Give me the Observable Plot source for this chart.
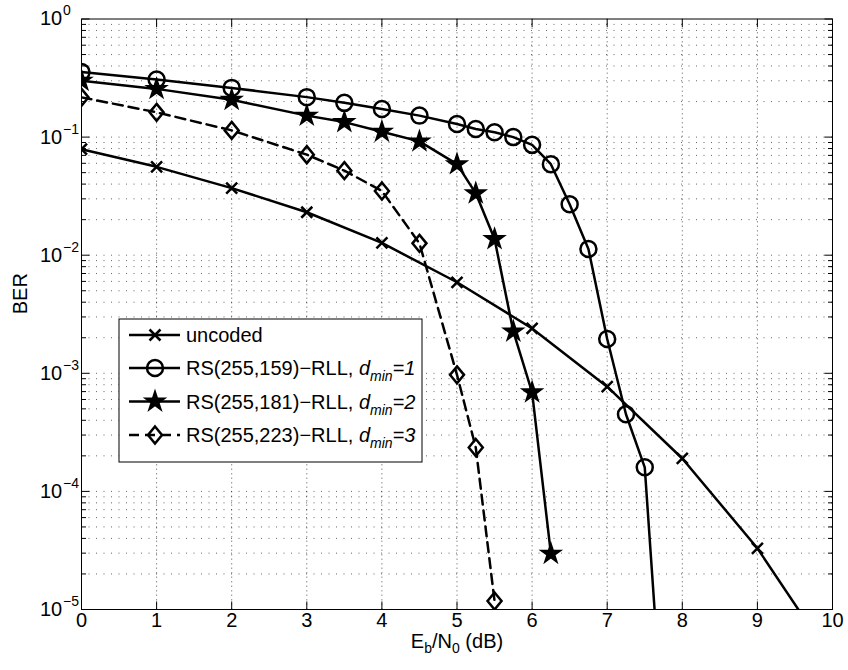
<!DOCTYPE html>
<html>
<head>
<meta charset="utf-8">
<script src="https://cdn.jsdelivr.net/npm/d3@7"></script>
<script src="https://cdn.jsdelivr.net/npm/@observablehq/plot@0.6"></script>
<style>
  html, body { margin: 0; padding: 0; background: #fff; }
  #chart { width: 848px; height: 670px; }
</style>
</head>
<body>
<div id="chart"></div>
<script>
// ---- data ----
const ebn0Uncoded = [0, 1, 2, 3, 4, 5, 6, 7, 8, 9, 10];
const berUncoded  = [0.079, 0.056, 0.037, 0.0231, 0.0127, 0.0059, 0.0024, 7.7e-4, 1.9e-4, 3.3e-5, 3.7e-6];

const ebn0RS159 = [0, 1, 2, 3, 3.5, 4, 4.5, 5, 5.25, 5.5, 5.75, 6, 6.25, 6.5, 6.75, 7, 7.25, 7.5, 7.75];
const berRS159  = [0.355, 0.307, 0.261, 0.218, 0.195, 0.173, 0.152, 0.129, 0.117, 0.110, 0.100, 0.086, 0.059, 0.027, 0.0113, 0.00195, 4.5e-4, 1.6e-4, 8e-7];

const ebn0RS181 = [0, 1, 2, 3, 3.5, 4, 4.5, 5, 5.25, 5.5, 5.75, 6, 6.25];
const berRS181  = [0.300, 0.256, 0.207, 0.152, 0.134, 0.111, 0.092, 0.059, 0.0334, 0.0137, 0.00226, 6.9e-4, 2.97e-5];

const ebn0RS223 = [0, 1, 2, 3, 3.5, 4, 4.5, 5, 5.25, 5.5];
const berRS223  = [0.217, 0.162, 0.114, 0.071, 0.052, 0.035, 0.0126, 9.7e-4, 2.35e-4, 1.18e-5];

const xTicks = [0, 1, 2, 3, 4, 5, 6, 7, 8, 9, 10];
const yMajor = [1e-5, 1e-4, 1e-3, 1e-2, 1e-1, 1];
const yExponents = ["−5", "−4", "−3", "−2", "−1", "0"];
const yMinor = [];
for (let e = -5; e < 0; e++) for (let m = 2; m <= 9; m++) yMinor.push(m * Math.pow(10, e));

const legendLabels = [
  {name: "uncoded"},
  {name: "RS(255,159)−RLL, ", d: "1"},
  {name: "RS(255,181)−RLL, ", d: "2"},
  {name: "RS(255,223)−RLL, ", d: "3"}
];

// ---- symbols ----
const crossSym = {draw(c) { const s = 5.5; c.moveTo(-s, -s); c.lineTo(s, s); c.moveTo(-s, s); c.lineTo(s, -s); }};
const circleSym = {draw(c) { c.moveTo(8, 0); c.arc(0, 0, 8, 0, 2 * Math.PI); }};
const starSym = {draw(c) {
  const R = 10.5, r = R * 0.382;
  for (let i = 0; i < 10; i++) {
    const a = -Math.PI / 2 + i * Math.PI / 5, rr = i % 2 ? r : R;
    const x = rr * Math.cos(a), y = rr * Math.sin(a);
    i ? c.lineTo(x, y) : c.moveTo(x, y);
  }
  c.closePath();
}};
const diamondSym = {draw(c) { const w = 7, h = 8.5; c.moveTo(0, -h); c.lineTo(w, 0); c.lineTo(0, h); c.lineTo(-w, 0); c.closePath(); }};
const tickL = (len) => ({draw(c) { c.moveTo(0, 0); c.lineTo(len, 0); }});
const tickV = (len) => ({draw(c) { c.moveTo(0, 0); c.lineTo(0, len); }});

const series = (xs, ys) => xs.map((x, i) => ({x, y: ys[i]}));
const dU = series(ebn0Uncoded, berUncoded);
const d159 = series(ebn0RS159, berRS159);
const d181 = series(ebn0RS181, berRS181);
const d223 = series(ebn0RS223, berRS223);

const gridH = {stroke: "#000", strokeOpacity: 0.6, strokeWidth: 1, strokeDasharray: "1,6.5"};
const gridV = {stroke: "#000", strokeOpacity: 0.45, strokeWidth: 1, strokeDasharray: "1.5,3"};
const LW = 2.5;
const FS = 20;

const xMin = 0, xMax = 10, yMin = 1e-5, yMax = 1;

const plot = Plot.plot({
  width: 848,
  height: 670,
  marginLeft: 81,
  marginRight: 16,
  marginTop: 18.5,
  marginBottom: 61,
  x: {domain: [xMin, xMax], axis: null},
  y: {type: "log", domain: [yMin, yMax], axis: null},
  style: {fontFamily: "'Liberation Sans', Arial, Helvetica, sans-serif", fontSize: FS + "px", background: "#fff", color: "#000"},
  marks: [
    // grid
    Plot.ruleX(xTicks.slice(1, -1), {...gridV}),
    Plot.ruleY(yMajor.slice(1, -1).concat(yMinor), {...gridH}),
    // inward ticks
    Plot.dot(xTicks.slice(1, -1), {x: d => d, y: yMin, symbol: tickV(-8), stroke: "#000", strokeWidth: 1, fill: "none"}),
    Plot.dot(xTicks.slice(1, -1), {x: d => d, y: yMax, symbol: tickV(8), stroke: "#000", strokeWidth: 1, fill: "none"}),
    Plot.dot(yMajor, {x: xMin, y: d => d, symbol: tickL(8), stroke: "#000", strokeWidth: 1, fill: "none"}),
    Plot.dot(yMajor, {x: xMax, y: d => d, symbol: tickL(-8), stroke: "#000", strokeWidth: 1, fill: "none"}),
    Plot.dot(yMinor, {x: xMin, y: d => d, symbol: tickL(4.5), stroke: "#000", strokeWidth: 1, fill: "none"}),
    Plot.dot(yMinor, {x: xMax, y: d => d, symbol: tickL(-4.5), stroke: "#000", strokeWidth: 1, fill: "none"}),
    // data lines
    Plot.line(dU, {x: "x", y: "y", stroke: "#000", strokeWidth: LW, clip: true}),
    Plot.line(d159, {x: "x", y: "y", stroke: "#000", strokeWidth: LW, clip: true}),
    Plot.line(d181, {x: "x", y: "y", stroke: "#000", strokeWidth: LW, clip: true}),
    Plot.line(d223, {x: "x", y: "y", stroke: "#000", strokeWidth: LW, strokeDasharray: "10,6", clip: true}),
    // markers
    Plot.dot(dU, {x: "x", y: "y", symbol: crossSym, stroke: "#000", strokeWidth: LW, fill: "none", clip: true}),
    Plot.dot(d159, {x: "x", y: "y", symbol: circleSym, stroke: "#000", strokeWidth: LW, fill: "none", clip: true}),
    Plot.dot(d181, {x: "x", y: "y", symbol: starSym, stroke: "#000", strokeWidth: 1.5, fill: "#000", clip: true}),
    Plot.dot(d223, {x: "x", y: "y", symbol: diamondSym, stroke: "#000", strokeWidth: LW, fill: "none", clip: true}),
    // frame
    Plot.frame({stroke: "#000", strokeWidth: 1}),
    // tick labels
    Plot.text(xTicks, {x: d => d, frameAnchor: "bottom", dy: 17, text: d => String(d), fill: "#000", fontSize: FS}),
    Plot.text(yMajor, {y: d => d, frameAnchor: "left", dx: -41.5, textAnchor: "start", text: () => "10", fill: "#000", fontSize: FS}),
    Plot.text(yMajor, {y: d => d, frameAnchor: "left", dx: -18.5, dy: -8, textAnchor: "start", text: (d, i) => yExponents[i], fill: "#000", fontSize: 14}),
    // axis labels
    Plot.text(["BER"], {frameAnchor: "left", dx: -61, rotate: -90, text: d => d, fill: "#000", fontSize: FS}),
    Plot.text(["XLABEL"], {frameAnchor: "bottom", dy: 38, text: d => d, fill: "#000", fontSize: FS})
  ]
});

document.getElementById("chart").appendChild(plot);

// rich text for x label
const svg = d3.select(plot);
svg.selectAll("text").filter(function() { return this.textContent === "XLABEL"; }).each(function() {
  const t = d3.select(this);
  t.text(null);
  t.append("tspan").text("E");
  t.append("tspan").attr("font-size", 14).attr("dy", 5).text("b");
  t.append("tspan").attr("dy", -5).text("/N");
  t.append("tspan").attr("font-size", 14).attr("dy", 5).text("0");
  t.append("tspan").attr("dy", -5).text(" (dB)");
});

// legend
const lg = svg.append("g")
  .attr("font-family", "'Liberation Sans', Arial, Helvetica, sans-serif")
  .attr("font-size", FS)
  .attr("text-anchor", "start");
const boxX = 119, boxY = 319, boxW = 303, boxH = 143;
lg.append("rect").attr("x", boxX).attr("y", boxY).attr("width", boxW).attr("height", boxH)
  .attr("fill", "#fff").attr("stroke", "#000").attr("stroke-width", 1);
const rowY = [335, 368, 401.5, 435];
const syms = [crossSym, circleSym, starSym, diamondSym];
legendLabels.forEach((lab, i) => {
  const y = rowY[i];
  lg.append("line").attr("x1", 129).attr("x2", 180).attr("y1", y).attr("y2", y)
    .attr("stroke", "#000").attr("stroke-width", LW).attr("stroke-dasharray", i === 3 ? "10,6" : null);
  const isStar = i === 2;
  lg.append("path").attr("d", d3.symbol(syms[i])()).attr("transform", `translate(155,${y})`)
    .attr("fill", isStar ? "#000" : "none").attr("stroke", "#000").attr("stroke-width", isStar ? 1.5 : LW);
  const t = lg.append("text").attr("x", 186).attr("y", y).attr("dy", "0.35em").attr("fill", "#000").attr("text-anchor", "start");
  t.append("tspan").text(lab.name);
  if (lab.d) {
    t.append("tspan").attr("font-style", "italic").text("d");
    t.append("tspan").attr("font-style", "italic").attr("font-size", 14).attr("dy", 6).text("min");
    t.append("tspan").attr("font-style", "italic").attr("dy", -6).text("=" + lab.d);
  }
});
</script>
</body>
</html>
